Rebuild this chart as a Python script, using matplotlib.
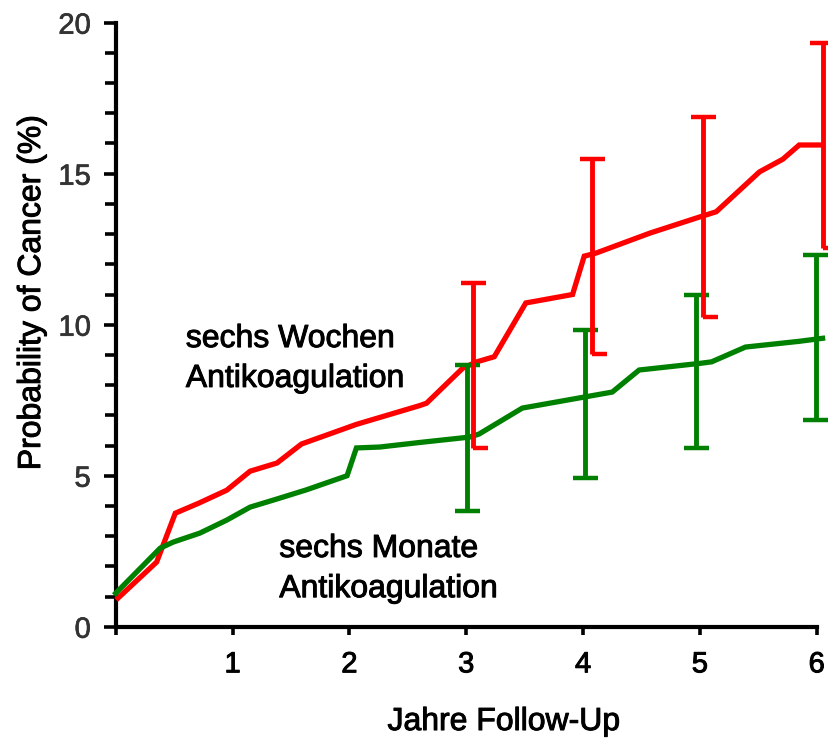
import matplotlib.pyplot as plt
import matplotlib.patheffects as pe
from matplotlib.ticker import MultipleLocator

plt.rcParams['font.family'] = ['Liberation Sans', 'DejaVu Sans']

# Kurven: Jahre Follow-Up / Wahrscheinlichkeit (%)
red_x = [0.02, 0.35, 0.51, 0.71, 0.95, 1.15, 1.38, 1.59, 2.06, 2.60, 2.66,
         2.97, 3.09, 3.24, 3.51, 3.91, 4.01, 4.11, 4.57, 5.00, 5.14, 5.51,
         5.71, 5.85, 6.05]
red_y = [0.95, 2.14, 3.76, 4.09, 4.52, 5.15, 5.42, 6.05, 6.70, 7.32, 7.40,
         8.56, 8.77, 8.94, 10.72, 11.00, 12.27, 12.37, 13.03, 13.57, 13.74,
         15.06, 15.48, 15.95, 15.95]

green_x = [0.00, 0.38, 0.49, 0.72, 0.95, 1.15, 1.38, 1.63, 1.98, 2.06, 2.26,
           2.60, 3.03, 3.11, 3.48, 3.96, 4.25, 4.48, 5.00, 5.10, 5.39, 5.85,
           6.05]
green_y = [1.11, 2.60, 2.80, 3.10, 3.53, 3.96, 4.23, 4.53, 5.00, 5.92, 5.95,
           6.10, 6.28, 6.38, 7.24, 7.57, 7.77, 8.50, 8.72, 8.77, 9.26, 9.45,
           9.55]

# Fehlerbalken (untere / obere Grenze)
red_bar_x = [3.06, 4.08, 5.03, 6.05]
red_low = [5.92, 9.03, 10.26, 12.53]
red_high = [11.38, 15.48, 16.87, 19.32]

green_bar_x = [3.01, 4.02, 4.97, 5.99]
green_low = [3.83, 4.92, 5.92, 6.84]
green_high = [8.66, 9.82, 10.98, 12.30]

x_ticks = [0, 1, 2, 3, 4, 5, 6]
x_tick_labels = ['', '1', '2', '3', '4', '5', '6']
y_ticks = [0, 5, 10, 15, 20]

RED = '#ff0000'
GREEN = '#008000'
cap = 0.105  # halbe Kappenbreite in Jahren

# etwas kraeftigere Schrift wie im Original
heavy = [pe.withStroke(linewidth=0.7, foreground='black')]
heavy_grey = [pe.withStroke(linewidth=0.5, foreground='#333333')]

fig = plt.figure(figsize=(8.29, 7.41), dpi=100)
ax = fig.add_axes([0.1396, 0.1542, 0.8456, 0.8152])

ax.plot(red_x, red_y, color=RED, lw=3.8, solid_joinstyle='miter',
        clip_on=False, zorder=3)
ax.plot(green_x, green_y, color=GREEN, lw=3.8, solid_joinstyle='miter',
        clip_on=False, zorder=3)

# gruene Balken
ax.vlines(green_bar_x, green_low, green_high, color=GREEN, lw=3.5,
          clip_on=False, zorder=4)
ax.hlines(green_high, [x - cap for x in green_bar_x],
          [x + cap for x in green_bar_x], color=GREEN, lw=3.2,
          clip_on=False, zorder=4)
ax.hlines(green_low, [x - cap for x in green_bar_x],
          [x + cap for x in green_bar_x], color=GREEN, lw=3.2,
          clip_on=False, zorder=4)

# rote Balken (untere Kappe nur nach rechts)
ax.vlines(red_bar_x, red_low, red_high, color=RED, lw=3.5,
          clip_on=False, zorder=5)
ax.hlines(red_high, [x - cap for x in red_bar_x],
          [x + cap for x in red_bar_x], color=RED, lw=3.2,
          clip_on=False, zorder=5)
ax.hlines(red_low, red_bar_x, [x + cap * 1.2 for x in red_bar_x],
          color=RED, lw=3.2, clip_on=False, zorder=5)

for tx, ty, label in [(0.60, 9.26, 'sechs Wochen'),
                      (0.60, 7.94, 'Antikoagulation'),
                      (1.40, 2.31, 'sechs Monate'),
                      (1.40, 0.98, 'Antikoagulation')]:
    ax.text(tx, ty, label, fontsize=23, va='baseline', path_effects=heavy)

ax.set_xlim(0, 6)
ax.set_ylim(0, 20)
ax.set_xticks(x_ticks)
ax.set_xticklabels(x_tick_labels)
ax.set_yticks(y_ticks)
ax.yaxis.set_minor_locator(MultipleLocator(1))

for side in ['top', 'right']:
    ax.spines[side].set_visible(False)
for side in ['left', 'bottom']:
    ax.spines[side].set_linewidth(3.0)

ax.tick_params(axis='x', which='major', length=6, width=2.6, pad=11,
               labelsize=21, direction='out')
ax.tick_params(axis='y', which='major', length=9, width=2.6, pad=9,
               labelsize=21, labelcolor='#333333', direction='out')
ax.tick_params(axis='y', which='minor', length=8, width=2.6, direction='out')
for lbl in ax.get_xticklabels():
    lbl.set_path_effects(heavy)
for lbl in ax.get_yticklabels():
    lbl.set_path_effects(heavy_grey)

ax.set_xlabel('Jahre Follow-Up', fontsize=23, va='baseline',
              path_effects=heavy)
ax.xaxis.set_label_coords(0.554, -0.171)
ax.set_ylabel('Probability of Cancer (%)', fontsize=23, va='baseline',
              path_effects=heavy)
ax.yaxis.set_label_coords(-0.108, 0.554)

fig.savefig('out.png', dpi=100)
